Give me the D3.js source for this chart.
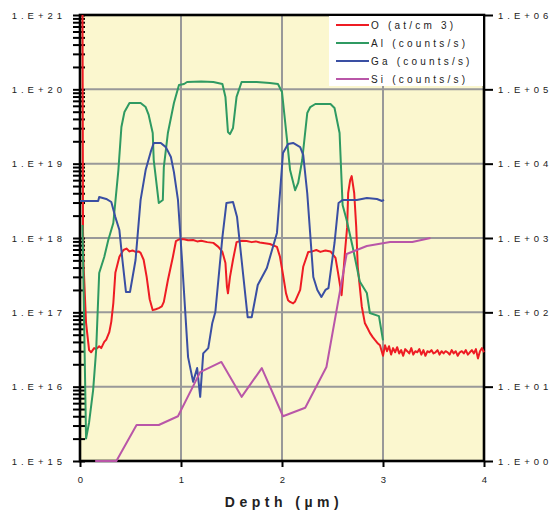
<!DOCTYPE html>
<html>
<meta charset="utf-8">
<style>
 body { margin:0; background:#fff; }
 text { font-family: Arial, "Liberation Sans", sans-serif; fill:#222; }
</style>
<script src="https://d3js.org/d3.v7.min.js"></script>
<svg width="555" height="512"></svg>
<script>
// depth (um) / value pairs
const oProfile = [
 [0.025,1e21],[0.03,1.2e18],[0.035,4.5e17],[0.06,7.2e16],[0.09,3.1e16],[0.11,2.9e16],[0.14,3.3e16],[0.16,3.2e16],
 [0.19,3.5e16],[0.21,3.3e16],[0.24,4.0e16],[0.26,4.3e16],[0.29,5.4e16],[0.31,7.5e16],[0.33,1.33e17],[0.35,3.4e17],
 [0.39,5.6e17],[0.43,6.9e17],[0.46,7.2e17],[0.49,6.6e17],[0.52,6.8e17],[0.55,6.5e17],[0.58,6.6e17],[0.60,6.3e17],
 [0.63,5.1e17],[0.66,3.0e17],[0.69,1.5e17],[0.72,1.07e17],[0.75,1.1e17],[0.78,1.14e17],[0.81,1.2e17],[0.83,1.38e17],
 [0.87,2.7e17],[0.92,5.6e17],[0.95,9.1e17],[0.99,9.7e17],[1.03,9.6e17],[1.07,9.3e17],[1.12,9.4e17],[1.16,9.0e17],
 [1.20,9.2e17],[1.26,8.8e17],[1.32,8.6e17],[1.37,7.6e17],[1.41,6.5e17],[1.44,4.6e17],[1.455,2.2e17],[1.465,1.8e17],
 [1.485,3.0e17],[1.515,5.1e17],[1.55,8.8e17],[1.60,9.2e17],[1.65,9.1e17],[1.70,8.8e17],[1.74,9.0e17],[1.78,8.7e17],
 [1.83,8.5e17],[1.88,8.3e17],[1.95,7.6e17],[1.98,5.6e17],[2.01,3.2e17],[2.04,1.8e17],[2.06,1.45e17],[2.08,1.38e17],
 [2.11,1.32e17],[2.13,1.4e17],[2.18,2.0e17],[2.21,4.1e17],[2.26,6.5e17],[2.30,6.6e17],[2.34,6.9e17],[2.38,6.5e17],
 [2.43,6.8e17],[2.48,6.6e17],[2.53,5.4e17],[2.555,3.4e17],[2.59,1.7e17],[2.605,3.0e17],[2.625,6.9e17],[2.645,1.4e18],
 [2.655,4.0e18],[2.675,6.0e18],[2.69,6.8e18],[2.70,5.5e18],[2.715,4.0e18],[2.735,1.4e18],[2.75,4.1e17],[2.79,1.2e17],
 [2.82,7.2e16],[2.85,6.0e16],[2.87,5.3e16],[2.90,4.6e16],[2.92,4.25e16],[2.95,3.8e16],[2.97,3.6e16],
 [3.00,2.6e16],[3.02,3.6e16],[3.04,3.0e16],[3.06,3.5e16],[3.08,2.7e16],[3.10,3.3e16],[3.12,2.9e16],[3.14,3.4e16],
 [3.16,2.8e16],[3.18,3.1e16],[3.20,2.6e16],[3.22,3.2e16],[3.24,3.0e16],[3.26,2.8e16],[3.28,3.3e16],[3.30,2.7e16],
 [3.32,3.0e16],[3.34,2.9e16],[3.36,3.2e16],[3.38,2.7e16],[3.40,3.1e16],[3.42,2.6e16],[3.44,3.0e16],[3.46,2.9e16],
 [3.48,3.1e16],[3.50,2.8e16],[3.52,2.9e16],[3.54,3.1e16],[3.56,2.7e16],[3.58,3.0e16],[3.60,2.8e16],[3.62,3.0e16],
 [3.64,2.9e16],[3.66,2.7e16],[3.68,3.1e16],[3.70,2.8e16],[3.72,3.0e16],[3.74,2.6e16],[3.76,2.9e16],[3.78,3.0e16],
 [3.80,2.8e16],[3.82,3.1e16],[3.84,2.7e16],[3.86,2.9e16],[3.88,3.1e16],[3.90,2.8e16],[3.92,3.2e16],[3.94,2.4e16],
 [3.96,3.0e16],[3.98,3.3e16],[4.00,2.9e16]
];

const alProfile = [
 [0.025,1500],[0.06,2.0],[0.09,3.3],[0.13,9.0],[0.16,31],[0.19,338],[0.24,555],[0.28,940],[0.33,1590],[0.38,8200],
 [0.41,31100],[0.44,49500],[0.49,65500],[0.60,65500],[0.65,57800],[0.68,45200],[0.72,25800],[0.73,11200],[0.75,6600],
 [0.78,2960],[0.82,3250],[0.83,9000],[0.87,25800],[0.93,65500],[0.98,114500],[1.03,118000],[1.06,125600],[1.20,127000],
 [1.32,125600],[1.41,118000],[1.44,79000],[1.465,26700],[1.485,25000],[1.515,30200],[1.55,79000],[1.60,125600],
 [1.75,125600],[1.88,121600],[1.96,118000],[2.00,92000],[2.05,20800],[2.08,8200],[2.13,4400],[2.16,5500],[2.20,11200],
 [2.25,48000],[2.28,57800],[2.33,63500],[2.48,63500],[2.52,56000],[2.57,25800],[2.60,2780],[2.64,1750],[2.70,757],
 [2.77,260],[2.84,182],[2.87,98],[2.96,89],[3.00,42]
];

const gaProfile = [
 [0.00,3150],[0.18,3150],[0.19,3560],[0.26,3350],[0.31,3050],[0.35,1910],[0.39,1280],[0.42,506],[0.455,188],[0.495,188],
 [0.55,506],[0.60,3250],[0.65,8200],[0.70,14400],[0.73,19000],[0.80,19000],[0.85,16700],[0.90,12300],[0.93,7700],
 [0.97,3250],[1.01,506],[1.07,25],[1.12,11.6],[1.16,17.8],[1.19,7.3],[1.22,28],[1.27,33],[1.31,72],[1.34,101],
 [1.41,1030],[1.45,2960],[1.515,3050],[1.555,1910],[1.60,506],[1.66,86],[1.70,86],[1.76,233],[1.85,395],[1.95,1170],
 [1.98,4000],[2.01,13900],[2.06,18400],[2.11,19000],[2.18,16700],[2.21,13100],[2.25,4000],[2.31,299],[2.35,200],
 [2.39,161],[2.43,200],[2.46,212],[2.52,857],[2.56,2960],[2.60,3250],[2.74,3250],[2.84,3450],[2.94,3350],[2.99,3150],
 [3.01,3250]
];

const siProfile = [
 [0.15,1],[0.36,1],[0.56,3.05],[0.78,3.05],[0.97,4.0],[1.19,15.7],[1.40,21.5],[1.60,7.3],[1.80,17.8],[2.01,4.0],
 [2.23,5.2],[2.44,18.4],[2.64,610],[2.84,780],[3.07,883],[3.29,883],[3.47,1000]
];

const seriesNames = ['O (at/cm 3)','Al (counts/s)','Ga (counts/s)','Si (counts/s)'];
const seriesColors = ['#ee1c24','#2f9a62','#3a4fa3','#b956a8'];
const depthTicks = [0,1,2,3,4];
const xTitle = 'Depth (\u00b5m)';

const svg = d3.select('svg');
const plot = {left:80, right:484, top:15, bottom:461};

const x = d3.scaleLinear().domain([0,4]).range([plot.left, plot.right]);
const yLeft = d3.scaleLog().domain([1e15,1e21]).range([plot.bottom, plot.top]);
const yRight = d3.scaleLog().domain([1,1e6]).range([plot.bottom, plot.top]);

const sci = d=>'1.E+' + String(Math.round(Math.log10(d))).padStart(2,'0');
const isDecade = d=>Math.abs(Math.log10(d) - Math.round(Math.log10(d))) < 1e-6;

// plot background
svg.append('rect')
	.attr('x',plot.left).attr('y',plot.top)
	.attr('width',plot.right-plot.left).attr('height',plot.bottom-plot.top)
	.attr('fill','#fbf7cf');

// grid
const grid = svg.append('g').attr('stroke','#999').attr('stroke-width',2);
grid.selectAll('line.v')
	.data(depthTicks.slice(1,-1))
	.enter().append('line')
	.attr('x1',d=>x(d)).attr('x2',d=>x(d))
	.attr('y1',plot.top).attr('y2',plot.bottom);
grid.selectAll('line.h')
	.data(yLeft.ticks().filter(isDecade).slice(1,-1))
	.enter().append('line')
	.attr('x1',plot.left).attr('x2',plot.right)
	.attr('y1',d=>yLeft(d)).attr('y2',d=>yLeft(d));

// frame
svg.append('rect')
	.attr('x',plot.left).attr('y',plot.top)
	.attr('width',plot.right-plot.left).attr('height',plot.bottom-plot.top)
	.attr('fill','none').attr('stroke','#000').attr('stroke-width',2.6);

const styleAxis = g=>{
	g.select('.domain').remove();
	g.selectAll('.tick line').attr('stroke','#000').attr('stroke-width',2);
	g.selectAll('.tick text')
		.attr('font-size',9.5)
		.attr('letter-spacing','4px')
		.style('font-family','Arial, "Liberation Sans", sans-serif')
		.attr('fill','#222');
}

// left axis, ticks cross the axis line
svg.append('g')
	.attr('transform',`translate(${plot.left+5},0)`)
	.call(d3.axisLeft(yLeft).tickSize(12).tickPadding(7).tickFormat(d=>isDecade(d)? sci(d) : ''))
	.call(styleAxis);

svg.append('g')
	.attr('transform',`translate(${plot.right+1},0)`)
	.call(d3.axisRight(yRight).tickValues(yRight.ticks().filter(isDecade)).tickSize(8).tickPadding(5).tickFormat(sci))
	.call(styleAxis);

const xAxis = svg.append('g')
	.attr('transform',`translate(0,${plot.bottom})`)
	.call(d3.axisBottom(x).tickValues(depthTicks).tickSize(6).tickPadding(9).tickFormat(d=>d))
	.call(styleAxis);
xAxis.selectAll('.tick text').attr('dx','2px');

// profiles
const series = [
	{data:oProfile, y:yLeft},
	{data:alProfile, y:yRight},
	{data:gaProfile, y:yRight},
	{data:siProfile, y:yRight}
];
series.forEach((s,i)=>{
	const line = d3.line().x(d=>x(d[0])).y(d=>s.y(d[1]));
	svg.append('path')
		.datum(s.data)
		.attr('d',line)
		.attr('fill','none')
		.attr('stroke',seriesColors[i])
		.attr('stroke-width',2)
		.attr('stroke-linejoin','round');
});

// legend
const legend = svg.append('g');
legend.append('rect')
	.attr('x',329).attr('y',plot.top+1)
	.attr('width',154).attr('height',70)
	.attr('fill','#fff');
seriesNames.forEach((name,i)=>{
	const ly = 25 + i*18;
	legend.append('line')
		.attr('x1',336).attr('x2',369)
		.attr('y1',ly).attr('y2',ly)
		.attr('stroke',seriesColors[i])
		.attr('stroke-width',2);
	legend.append('text')
		.attr('x',371).attr('y',ly)
		.attr('dy','0.35em')
		.attr('font-size',10)
		.attr('letter-spacing','3.2px')
		.text(name);
});

svg.append('text')
	.attr('x',(plot.left+plot.right)/2 + 2)
	.attr('y',507)
	.attr('text-anchor','middle')
	.attr('font-size',14)
	.attr('font-weight','bold')
	.attr('letter-spacing','4.5px')
	.attr('fill','#111')
	.text(xTitle);
</script>
</html>
